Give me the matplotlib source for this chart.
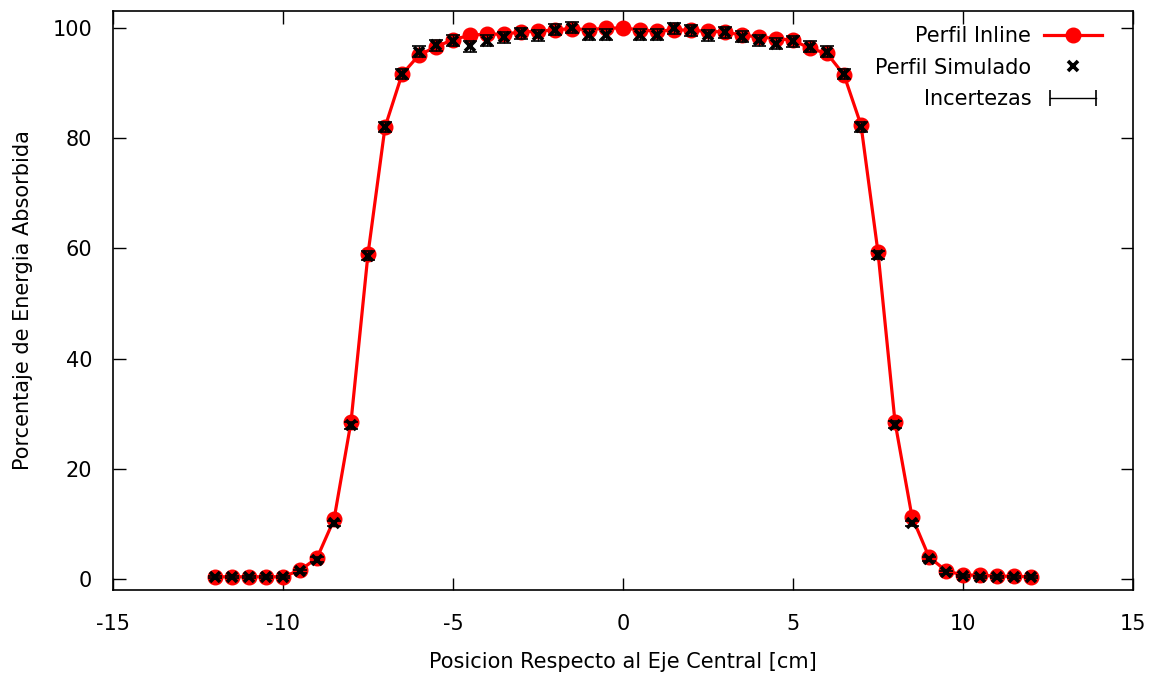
import matplotlib

matplotlib.use("Agg")
import matplotlib.pyplot as plt
from matplotlib.lines import Line2D
from matplotlib.legend_handler import HandlerLine2D

# Position along the inline profile [cm]
x_inline = [-12, -11.5, -11, -10.5, -10, -9.5, -9, -8.5, -8, -7.5, -7, -6.5, -6,
            -5.5, -5, -4.5, -4, -3.5, -3, -2.5, -2, -1.5, -1, -0.5, 0,
            0.5, 1, 1.5, 2, 2.5, 3, 3.5, 4, 4.5, 5, 5.5, 6, 6.5, 7, 7.5,
            8, 8.5, 9, 9.5, 10, 10.5, 11, 11.5, 12]
y_inline = [0.4, 0.4, 0.4, 0.4, 0.4, 1.6, 3.8, 10.8, 28.5, 59.0, 82.0, 91.6, 95.1,
            96.6, 97.9, 98.7, 98.9, 98.9, 99.3, 99.4, 99.7, 99.9, 99.7, 100.0, 100.0,
            99.7, 99.4, 99.7, 99.6, 99.4, 99.3, 98.7, 98.4, 98.1, 97.8, 96.3, 95.4, 91.5, 82.4, 59.3,
            28.5, 11.3, 4.0, 1.5, 0.7, 0.7, 0.5, 0.5, 0.4]

# Simulated profile (no point at the centre)
x_sim = [-12, -11.5, -11, -10.5, -10, -9.5, -9, -8.5, -8, -7.5, -7, -6.5, -6,
         -5.5, -5, -4.5, -4, -3.5, -3, -2.5, -2, -1.5, -1, -0.5,
         0.5, 1, 1.5, 2, 2.5, 3, 3.5, 4, 4.5, 5, 5.5, 6, 6.5, 7, 7.5,
         8, 8.5, 9, 9.5, 10, 10.5, 11, 11.5, 12]
y_sim = [0.3, 0.3, 0.3, 0.3, 0.3, 1.4, 3.5, 10.1, 27.9, 58.7, 82.0, 91.7, 95.7,
         96.9, 97.7, 96.7, 97.7, 98.3, 99.1, 98.7, 99.7, 100.1, 98.8, 98.8,
         98.8, 98.8, 100.0, 99.6, 98.7, 99.2, 98.4, 97.8, 97.2, 97.6, 96.6, 95.7, 91.7, 82.0, 58.8,
         28.0, 10.1, 3.6, 1.2, 0.5, 0.4, 0.4, 0.3, 0.3]
err_sim = [0.2, 0.2, 0.2, 0.2, 0.2, 0.3, 0.4, 0.5, 0.6, 0.8, 0.9, 0.9, 1.0,
           1.0, 1.0, 1.0, 1.0, 1.0, 1.0, 1.0, 1.0, 1.0, 1.0, 1.0,
           1.0, 1.0, 1.0, 1.0, 1.0, 1.0, 1.0, 1.0, 1.0, 1.0, 1.0, 1.0, 0.9, 0.9, 0.8,
           0.6, 0.5, 0.4, 0.3, 0.2, 0.2, 0.2, 0.2, 0.2]

plt.rcParams.update({"font.family": "DejaVu Sans", "font.size": 15,
                     "axes.unicode_minus": False})

fig = plt.figure(figsize=(11.53, 6.81), dpi=100)
ax = fig.add_axes([113 / 1153, 91 / 681, 1020 / 1153, 579 / 681])

ax.errorbar(x_sim, y_sim, yerr=err_sim, fmt="none", ecolor="black",
            elinewidth=1.0, capsize=5, capthick=1.2, zorder=4)
ax.plot(x_inline, y_inline, color="#ff0000", lw=2.3, marker="o", ms=10.5,
        mec="#ff0000", zorder=3)
ax.plot(x_sim, y_sim, ls="none", marker="x", ms=7.5, mew=2.6, color="black", zorder=5)

ax.set_xlim(-15, 15)
ax.set_ylim(-2, 103.1)
ax.set_xticks([-15, -10, -5, 0, 5, 10, 15])
ax.set_yticks([0, 20, 40, 60, 80, 100])
ax.tick_params(direction="in", length=9, width=1, top=True, right=True, labelsize=15)
ax.tick_params(axis="x", pad=17)
ax.tick_params(axis="y", pad=15)
for s in ax.spines.values():
    s.set_linewidth(1.2)

ax.set_xlabel("Posicion Respecto al Eje Central [cm]", labelpad=13, fontsize=15)
ax.set_ylabel("Porcentaje de Energia Absorbida", labelpad=14, fontsize=15)

h_inline = Line2D([], [], color="#ff0000", lw=2.3, marker="o", ms=10.5)
h_sim = Line2D([], [], ls="none", marker="x", ms=7.5, mew=2.6, color="black")
h_err = Line2D([], [], color="black", lw=1.0, marker="|", ms=12, mew=1.2)
ax.legend([h_inline, h_sim, h_err], ["Perfil Inline", "Perfil Simulado", "Incertezas"],
          loc="upper right", bbox_to_anchor=(0.988, 1.006), frameon=False,
          markerfirst=False, handlelength=2.8, handletextpad=0.6,
          labelspacing=0.55, fontsize=15,
          handler_map={h_err: HandlerLine2D(numpoints=2), h_inline: HandlerLine2D(numpoints=1)})

fig.savefig("out.png", dpi=100, facecolor="white")
